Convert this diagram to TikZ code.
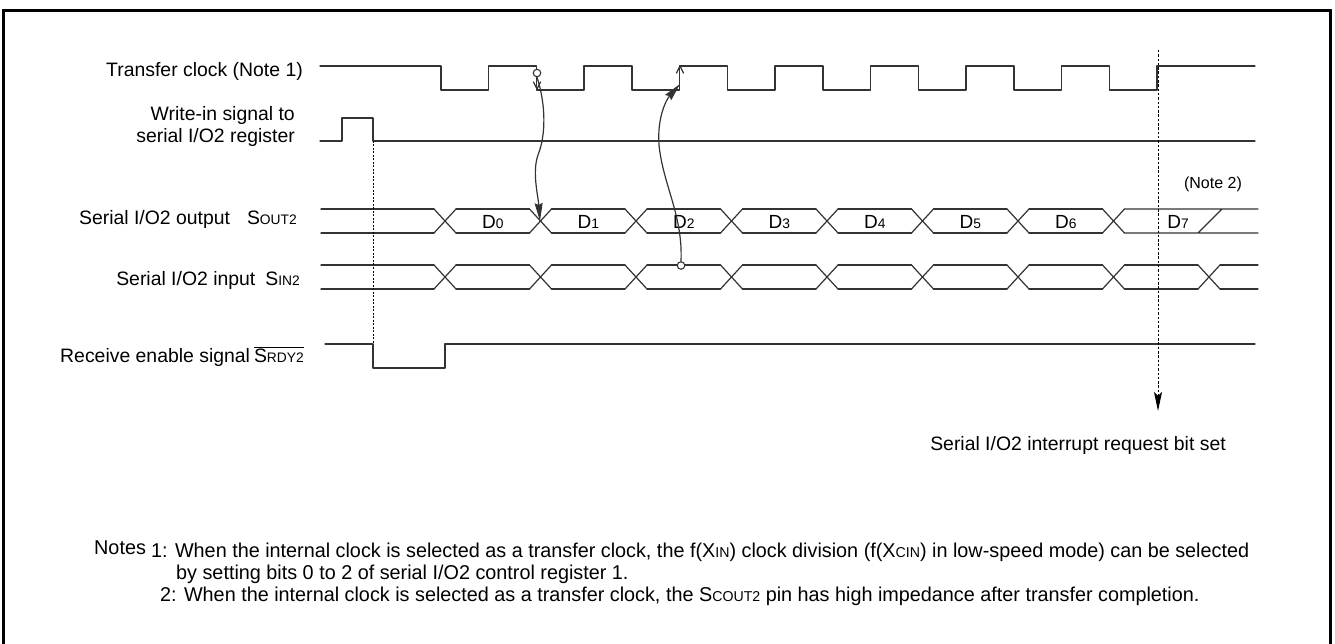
\documentclass[tikz,border=0pt]{standalone}
\usepackage{fontspec}
\setmainfont{Liberation Sans}
\newfontfamily\notesfont[FakeStretch=0.99]{Liberation Sans}
\usetikzlibrary{arrows.meta}
\newcommand\lf{\fontsize{19.4}{23}\selectfont}
\newcommand\sm[1]{{\fontsize{13.8}{14}\selectfont #1}}
\newcommand\nsm[1]{{\fontsize{14.3}{15}\selectfont #1}}
\begin{document}
\begin{tikzpicture}[x=1pt,y=-1pt,
  sig/.style={line width=1.2pt, draw=black!80, line cap=round, line join=round},
  lbl/.style={anchor=base east, inner sep=0pt, font=\lf},
  dlbl/.style={anchor=base, inner sep=0pt, font=\fontsize{19}{20}\selectfont},
  note/.style={anchor=base west, inner sep=0pt, font=\notesfont\fontsize{20}{22}\selectfont},
  ring/.style={circle, draw=black!80, line width=1.1pt, minimum size=7.5pt, inner sep=0pt, fill=white},
  tip/.style={-{Stealth[length=18pt,width=8pt,inset=2pt]}}]
\useasboundingbox (0,0) rectangle (1335,644);
% frame
\draw[line width=3pt] (3.5,644) -- (3.5,11) -- (1330.5,11) -- (1330.5,644);

% labels
\node[lbl] (lclk) at (303,77) {Transfer clock (Note 1)};
\node[lbl] (lwr1) at (295,121) {Write-in signal to};
\node[lbl] (lwr2) at (295,143) {serial I/O2 register};
\node[lbl] (lout) at (297,225) {Serial I/O2 output\hspace{17pt}S\sm{OUT2}};
\node[lbl] (lin) at (300,285) {Serial I/O2 input\hspace{10pt}S\sm{IN2}};
\node[lbl] (lrdy) at (304,362) {Receive enable signal\hspace{4pt}$\overline{\hbox{\lf S\sm{RDY2}}}$};

% transfer clock
\draw[sig] (320,66) foreach \k in {0,...,7}{ -- ({441+95.5*\k},66) -- ({441+95.5*\k},90) -- ({488.5+95.5*\k},90) -- ({488.5+95.5*\k},66)} -- (1255,66);
% write-in signal
\draw[sig] (320,141) -- (342,141) -- (342,118) -- (373,118) -- (373,141) -- (1255,141);
% receive enable
\draw[sig] (325,344) -- (373,344) -- (373,368) -- (445,368) -- (445,344) -- (1255,344);

% SOUT2 bus
\draw[sig] (321,209) -- (434,209) (321,233) -- (434,233);
\foreach \k in {0,...,7}{
  \pgfmathsetmacro\c{445+95.5*\k}
  \draw[sig] ({\c-11},209) -- ({\c+11},233) ({\c-11},233) -- ({\c+11},209);
}
\foreach \k in {0,...,6}{
  \pgfmathsetmacro\c{445+95.5*\k}
  \draw[sig] ({\c+11},209) -- ({\c+84.5},209) ({\c+11},233) -- ({\c+84.5},233);
  \node[dlbl] (d\k) at ({\c+47.75},229) {D\sm{\k}};
}
\draw[sig] (1124.5,209) -- (1258,209) (1124.5,233) -- (1258,233) (1198,233) -- (1222,209);
\node[dlbl] (d7) at (1178,229) {D\sm{7}};
\node[anchor=base, inner sep=0pt, font=\fontsize{16}{18}\selectfont] (note2) at (1213,189) {(Note 2)};

% SIN2 bus
\draw[sig] (321,265) -- (434,265) (321,289) -- (434,289);
\foreach \k in {0,...,8}{
  \pgfmathsetmacro\c{445+95.5*\k}
  \draw[sig] ({\c-11},265) -- ({\c+11},289) ({\c-11},289) -- ({\c+11},265);
}
\foreach \k in {0,...,7}{
  \pgfmathsetmacro\c{445+95.5*\k}
  \draw[sig] ({\c+11},265) -- ({\c+84.5},265) ({\c+11},289) -- ({\c+84.5},289);
}
\draw[sig] (1220,265) -- (1258,265) (1220,289) -- (1258,289);

% dotted line write-in -> receive enable
\coordinate (wrfall) at (373,141);
\coordinate (rdyfall) at (373,344);
\draw[dash pattern=on 2pt off 1.5pt, line width=1pt] (wrfall) -- (rdyfall);

% interrupt request
\coordinate (irqtop) at (1158,50);
\coordinate (irqtip) at (1158,411);
\draw[dash pattern=on 2.5pt off 1.8pt, line width=1pt, -{Stealth[length=19pt,width=8pt,inset=4pt]}] (irqtop) -- (irqtip);
\node[anchor=base, inner sep=0pt, font=\lf] (irqtxt) at (1078,450) {Serial I/O2 interrupt request bit set};

% clock edge markers
\draw[sig] (533.5,82) -- (537,89) -- (540.5,82);
\draw[sig] (676.5,73) -- (680,66) -- (683.5,73);
\node[ring] (clkc) at (537,73) {};
\node[ring] (sinc) at (681,265.5) {};
\coordinate (out0) at (540,221);
\coordinate (clkup) at (680,84);
\draw[sig, tip] (clkc.south) .. controls (546,105) and (546,135) .. (538,155) .. controls (532,172) and (538,195) .. (out0);
\draw[sig, tip] (sinc.north) .. controls (683,215) and (663,185) .. (659,145) .. controls (657,118) and (666,100) .. (clkup);

% notes
\node[note] (nh) at (94,554) {Notes};
\node[note] (n1) at (151,557) {1: When the internal clock is selected as a transfer clock, the f(X\nsm{IN}) clock division (f(X\nsm{CIN}) in low-speed mode) can be selected};
\node[note] (n1b) at (176,579) {by setting bits 0 to 2 of serial I/O2 control register 1.};
\node[note] (n2) at (160,601) {2: When the internal clock is selected as a transfer clock, the S\nsm{COUT2} pin has high impedance after transfer completion.};
\end{tikzpicture}
\end{document}
